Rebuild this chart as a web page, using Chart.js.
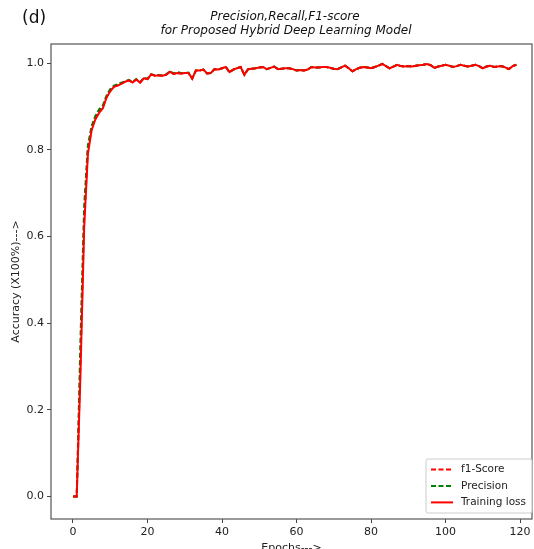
<!DOCTYPE html>
<html>
<head>
<meta charset="utf-8">
<script src="https://cdn.jsdelivr.net/npm/chart.js@4.4.0/dist/chart.umd.min.js"></script>
<style>
  html, body { margin: 0; padding: 0; background: #fff; }
  #wrap { width: 534px; height: 549px; }
</style>
</head>
<body>
<div id="wrap"><canvas id="grafico" width="534" height="549"></canvas></div>
<script>
const fuente = '"DejaVu Sans", "Liberation Sans", sans-serif';

const epochs = Array.from({ length: 120 }, (_, i) => i);
const xTicks = [0, 20, 40, 60, 80, 100, 120];
const yTicks = [0, 0.2, 0.4, 0.6, 0.8, 1.0];

const f1Score = [0, 0, 0.31, 0.64, 0.80, 0.85, 0.874, 0.889, 0.898, 0.922,
  0.937, 0.946, 0.949, 0.953, 0.957, 0.96, 0.956, 0.962, 0.955, 0.965,
  0.963, 0.974, 0.971, 0.972, 0.971, 0.973, 0.98, 0.975, 0.977, 0.976,
  0.977, 0.977, 0.964, 0.983, 0.983, 0.985, 0.976, 0.977, 0.986, 0.985,
  0.988, 0.991, 0.979, 0.985, 0.988, 0.991, 0.973, 0.986, 0.987, 0.988,
  0.990, 0.991, 0.986, 0.989, 0.992, 0.986, 0.987, 0.988, 0.988, 0.986,
  0.983, 0.984, 0.983, 0.985, 0.991, 0.990, 0.990, 0.991, 0.991, 0.989,
  0.987, 0.986, 0.990, 0.994, 0.988, 0.981, 0.986, 0.989, 0.991, 0.990,
  0.988, 0.991, 0.994, 0.998, 0.993, 0.988, 0.992, 0.996, 0.993, 0.992,
  0.993, 0.992, 0.994, 0.995, 0.996, 0.998, 0.995, 0.989, 0.992, 0.994,
  0.996, 0.994, 0.991, 0.993, 0.996, 0.994, 0.992, 0.994, 0.996, 0.993,
  0.988, 0.992, 0.994, 0.991, 0.992, 0.993, 0.990, 0.986, 0.993, 0.996];

const precision = [0, 0, 0.36, 0.67, 0.81, 0.855, 0.878, 0.893, 0.902, 0.925,
  0.94, 0.948, 0.951, 0.955, 0.958, 0.961, 0.957, 0.963, 0.956, 0.966,
  0.964, 0.974, 0.972, 0.972, 0.972, 0.974, 0.981, 0.976, 0.979, 0.977,
  0.977, 0.978, 0.965, 0.983, 0.983, 0.985, 0.976, 0.977, 0.986, 0.985,
  0.988, 0.991, 0.979, 0.985, 0.988, 0.991, 0.973, 0.986, 0.987, 0.988,
  0.990, 0.991, 0.986, 0.989, 0.992, 0.986, 0.987, 0.988, 0.988, 0.986,
  0.983, 0.984, 0.983, 0.985, 0.991, 0.990, 0.990, 0.991, 0.991, 0.989,
  0.987, 0.986, 0.990, 0.994, 0.988, 0.981, 0.986, 0.989, 0.991, 0.990,
  0.988, 0.991, 0.994, 0.998, 0.993, 0.988, 0.992, 0.996, 0.993, 0.992,
  0.993, 0.992, 0.994, 0.995, 0.996, 0.998, 0.995, 0.989, 0.992, 0.994,
  0.996, 0.994, 0.991, 0.993, 0.996, 0.994, 0.992, 0.994, 0.996, 0.993,
  0.988, 0.992, 0.994, 0.991, 0.992, 0.993, 0.990, 0.986, 0.993, 0.996];

const trainingLoss = [0, 0, 0.28, 0.62, 0.79, 0.845, 0.87, 0.885, 0.895, 0.92,
  0.935, 0.945, 0.948, 0.952, 0.957, 0.96, 0.955, 0.962, 0.955, 0.965,
  0.963, 0.974, 0.971, 0.972, 0.971, 0.973, 0.98, 0.975, 0.977, 0.976,
  0.977, 0.977, 0.964, 0.983, 0.983, 0.985, 0.976, 0.977, 0.986, 0.985,
  0.988, 0.991, 0.979, 0.985, 0.988, 0.991, 0.973, 0.986, 0.987, 0.988,
  0.990, 0.991, 0.986, 0.989, 0.992, 0.986, 0.987, 0.988, 0.988, 0.986,
  0.983, 0.984, 0.983, 0.985, 0.991, 0.990, 0.990, 0.991, 0.991, 0.989,
  0.987, 0.986, 0.990, 0.994, 0.988, 0.981, 0.986, 0.989, 0.991, 0.990,
  0.988, 0.991, 0.994, 0.998, 0.993, 0.988, 0.992, 0.996, 0.993, 0.992,
  0.993, 0.992, 0.994, 0.995, 0.996, 0.998, 0.995, 0.989, 0.992, 0.994,
  0.996, 0.994, 0.991, 0.993, 0.996, 0.994, 0.992, 0.994, 0.996, 0.993,
  0.988, 0.992, 0.994, 0.991, 0.992, 0.993, 0.990, 0.986, 0.993, 0.996];

const puntos = (serie) => serie.map((v, i) => ({ x: epochs[i], y: v }));

// marco, titulo y leyenda estilo matplotlib
const marco = {
  id: 'marco',
  afterDraw(chart) {
    const ctx = chart.ctx;
    const a = chart.chartArea;
    ctx.save();
    ctx.strokeStyle = '#555';
    ctx.lineWidth = 1.2;
    ctx.strokeRect(a.left, a.top, a.right - a.left, a.bottom - a.top);

    ctx.fillStyle = '#111';
    ctx.textAlign = 'center';
    ctx.textBaseline = 'middle';
    ctx.font = 'italic 12px ' + fuente;
    ctx.fillText('Precision,Recall,F1-score', 285, 17);
    ctx.fillText('for Proposed Hybrid Deep Learning Model', 286, 31);
    ctx.textAlign = 'left';
    ctx.font = '17px ' + fuente;
    ctx.fillText('(d)', 22, 19);

    // leyenda
    const x0 = 426, y0 = 459, w = 106, h = 54;
    ctx.fillStyle = 'rgba(255,255,255,0.85)';
    ctx.strokeStyle = '#ccc';
    ctx.lineWidth = 1;
    ctx.beginPath();
    ctx.roundRect(x0, y0, w, h, 2);
    ctx.fill();
    ctx.stroke();
    ctx.font = '10.5px ' + fuente;
    chart.data.datasets.forEach((ds, i) => {
      const y = 469.6 + i * 16.4;
      ctx.strokeStyle = ds.borderColor;
      ctx.lineWidth = ds.borderWidth;
      ctx.setLineDash(ds.borderDash || []);
      ctx.beginPath();
      ctx.moveTo(431, y);
      ctx.lineTo(453, y);
      ctx.stroke();
      ctx.setLineDash([]);
      ctx.fillStyle = '#222';
      ctx.fillText(ds.label, 461, y);
    });
    ctx.restore();
  }
};

const canvas = document.querySelector('#grafico');

const config = {
  type: 'line',
  data: {
    datasets: [
      {
        label: 'f1-Score',
        data: puntos(f1Score),
        borderColor: '#ff0000',
        borderWidth: 2,
        borderDash: [5, 2.5],
        order: 3
      },
      {
        label: 'Precision',
        data: puntos(precision),
        borderColor: '#008000',
        borderWidth: 2,
        borderDash: [5, 2.5],
        order: 2
      },
      {
        label: 'Training loss',
        data: puntos(trainingLoss),
        borderColor: '#ff0000',
        borderWidth: 2,
        order: 1
      }
    ]
  },
  options: {
    responsive: false,
    animation: false,
    devicePixelRatio: 1,
    elements: { point: { radius: 0 }, line: { tension: 0 } },
    layout: { padding: { top: 44, right: 2, left: 0, bottom: 0 } },
    plugins: {
      legend: { display: false },
      tooltip: { enabled: false }
    },
    scales: {
      x: {
        type: 'linear',
        min: -5.9,
        max: 123.2,
        afterBuildTicks: (scale) => { scale.ticks = xTicks.map(v => ({ value: v })); },
        afterFit: (scale) => { scale.height = 30; },
        grid: { drawOnChartArea: false, drawTicks: true, tickLength: 4, color: '#444' },
        border: { display: false },
        ticks: { color: '#222', font: { family: fuente, size: 11 }, padding: 3, maxRotation: 0,
          callback: (v) => v },
        title: { display: true, text: 'Epochs--->', color: '#222',
          font: { family: fuente, size: 11 }, padding: { top: 0, bottom: -6 } }
      },
      y: {
        min: -0.052,
        max: 1.044,
        afterBuildTicks: (scale) => { scale.ticks = yTicks.map(v => ({ value: v })); },
        afterFit: (scale) => { scale.width = 51; },
        grid: { drawOnChartArea: false, drawTicks: true, tickLength: 4, color: '#444' },
        border: { display: false },
        ticks: { color: '#222', font: { family: fuente, size: 11 }, padding: 3,
          callback: (v) => v.toFixed(1) },
        title: { display: true, text: 'Accuracy (X100%)--->', color: '#222',
          font: { family: fuente, size: 11 }, padding: { top: 10, bottom: 0 } }
      }
    }
  },
  plugins: [marco]
};

new Chart(canvas, config);
</script>
</body>
</html>
